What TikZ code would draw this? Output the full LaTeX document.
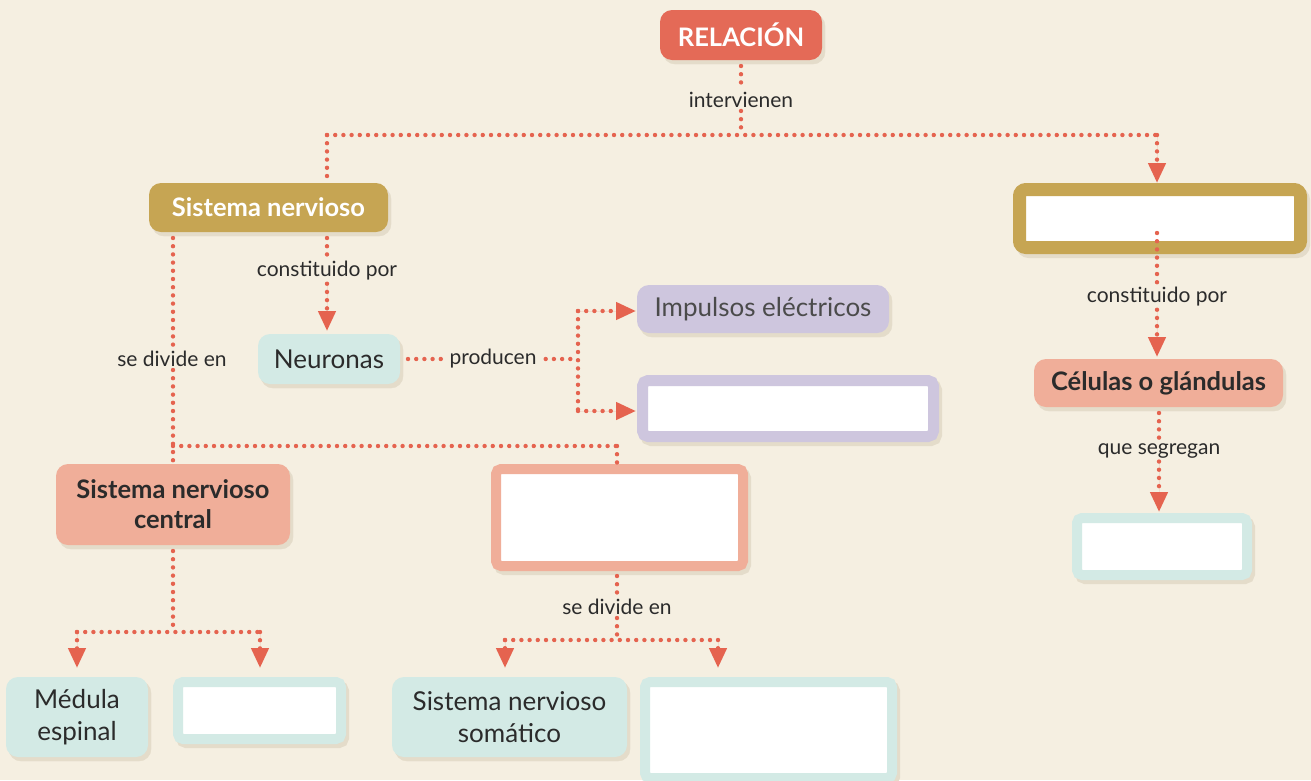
\documentclass[tikz,border=0pt]{standalone}
\usepackage{fontspec}
\setmainfont{Lato}
\usetikzlibrary{arrows.meta}
\definecolor{bg}{HTML}{F5EFE1}
\definecolor{relc}{HTML}{E46A57}
\definecolor{gold}{HTML}{C6A553}
\definecolor{salmon}{HTML}{F0AE99}
\definecolor{teal}{HTML}{D3EAE5}
\definecolor{lav}{HTML}{CEC6DE}
\definecolor{dotc}{HTML}{E5634F}
\definecolor{txt}{HTML}{2B2B2B}
\definecolor{shad}{HTML}{E4DCCA}
\begin{document}
\begin{tikzpicture}[x=1pt,y=-1pt,
  shadowed/.style={preaction={draw=shad,fill=shad,transform canvas={shift={(3pt,-4pt)}}}},
  fillbox/.style={shadowed,rounded corners=12pt,inner sep=0pt,outer sep=0pt,align=center,text=txt},
  emptybox/.style={shadowed,fill=white,line width=#1,rounded corners=#1/2,inner sep=0pt,outer sep=0pt},
  boldtxt/.style={font=\bfseries\fontsize{25.5}{30}\selectfont},
  regtxt/.style={font=\fontsize{26}{32}\selectfont},
  lab/.style={font=\fontsize{21}{22}\selectfont,text=txt,inner sep=3pt},
  dots/.style={draw=dotc,line width=4.4pt,line cap=round,dash pattern=on 0pt off 8.2pt},
  arr/.style={-{Triangle[length=20pt,width=17pt]},fill=dotc}]
\useasboundingbox (0,0) rectangle (1311,780);
\fill[bg] (0,0) rectangle (1311,780);

% nodes
\node[fillbox,fill=relc,text=white,boldtxt,minimum width=162pt,minimum height=50pt] (rel) at (741,35) {RELACIÓN};
\node[fillbox,fill=gold,text=white,boldtxt,minimum width=239pt,minimum height=49pt] (sn) at (268.5,207.5) {Sistema nervioso};
\node[emptybox=13pt,draw=gold,minimum width=281pt,minimum height=58pt] (gbox) at (1160,218.5) {};
\node[fillbox,fill=teal,regtxt,minimum width=142pt,minimum height=50pt] (neu) at (329,359) {Neuronas};
\node[fillbox,fill=lav,regtxt,text=txt!85,minimum width=252pt,minimum height=48pt] (imp) at (763,309) {Impulsos eléctricos};
\node[emptybox=11pt,draw=lav,minimum width=291pt,minimum height=56pt] (lbox) at (788,408.5) {};
\node[fillbox,fill=salmon,boldtxt,minimum width=234pt,minimum height=81pt] (snc) at (173,504.5) {Sistema nervioso\\central};
\node[emptybox=10pt,draw=salmon,minimum width=247pt,minimum height=97pt] (sbox) at (619.5,517.5) {};
\node[fillbox,fill=salmon,boldtxt,minimum width=249pt,minimum height=48pt] (cel) at (1158.5,383) {Células o glándulas};
\node[emptybox=10pt,draw=teal,minimum width=170pt,minimum height=57pt] (tbox) at (1162,546.5) {};
\node[fillbox,fill=teal,regtxt,minimum width=142pt,minimum height=80pt] (med) at (77,717) {Médula\\espinal};
\node[emptybox=10pt,draw=teal,minimum width=163pt,minimum height=57pt] (t2) at (259.5,710.5) {};
\node[fillbox,fill=teal,regtxt,minimum width=235pt,minimum height=80pt] (som) at (509.5,717) {Sistema nervioso\\somático};
\node[emptybox=10pt,draw=teal,minimum width=247pt,minimum height=96pt] (t3) at (768.5,730) {};

% labels
\node[lab] (lint) at (741,100) {intervienen};
\node[lab] (lc1) at (327,271) {constituido por};
\node[lab] (ldiv) at (172,359) {se divide en};
\node[lab] (lprod) at (493,359) {producen};
\node[lab] (lc2) at (1157,297) {constituido por};
\node[lab] (lseg) at (1159,451) {que segregan};
\node[lab] (ldiv2) at (617,607) {se divide en};

% junction coordinates
\coordinate (j1) at (741,135);
\coordinate (jl) at (327,135);
\coordinate (jr) at (1157,135);
\coordinate (xl) at (173,446);
\coordinate (xm) at (617,446);
\coordinate (xp) at (578,359);
\coordinate (xp1) at (578,311);
\coordinate (xp2) at (578,411);
\coordinate (r1) at (1157,233);
\coordinate (s1) at (173,632);
\coordinate (s1l) at (77,632);
\coordinate (s1r) at (260,632);
\coordinate (s2) at (617,640);
\coordinate (s2l) at (505,640);
\coordinate (s2r) at (718,640);

% connectors
\draw[dots,shorten <=6pt] (rel.south) -- (lint.north);
\draw[dots] (lint.south) -- (j1);
\draw[dots] (jl) -- (jr);
\draw[dots] (jl) -- (jl |- sn.north);
\draw[dots,arr,shorten >=6.5pt] (jr) -- (jr |- gbox.north);

\draw[dots,shorten <=6pt] (sn.south -| jl) -- (lc1.north);
\draw[dots,arr,shorten >=3pt] (lc1.south) -- (lc1.south |- neu.north);

\draw[dots,shorten <=6pt] (sn.south -| xl) -- (ldiv.north -| xl);
\draw[dots] (ldiv.south -| xl) -- (xl |- snc.north);
\draw[dots] (xl) -- (xm);
\draw[dots,shorten >=5pt] (xm) -- (sbox.north -| xm);

\draw[dots,shorten <=8pt] (neu.east) -- (lprod.west);
\draw[dots,shorten <=6pt] (lprod.east) -- (xp);
\draw[dots] (xp1) -- (xp2);
\draw[dots,arr,shorten >=1pt] (xp1) -- (imp.west |- xp1);
\draw[dots,arr,shorten >=6.5pt] (xp2) -- (lbox.west |- xp2);

\draw[dots] (r1) -- (lc2.north);
\draw[dots,arr,shorten >=2pt] (lc2.south) -- (lc2.south |- cel.north);
\draw[dots,shorten <=6pt] (cel.south -| lseg) -- (lseg.north);
\draw[dots,arr,shorten >=6pt] (lseg.south) -- (lseg.south |- tbox.north);

\draw[dots,shorten <=6pt] (snc.south) -- (s1);
\draw[dots] (s1l) -- (s1r);
\draw[dots,arr,shorten >=9pt] (s1l) -- (s1l |- med.north);
\draw[dots,arr,shorten >=14pt] (s1r) -- (s1r |- t2.north);

\draw[dots,shorten <=10pt] (sbox.south -| s2) -- (ldiv2.north);
\draw[dots] (ldiv2.south) -- (s2);
\draw[dots] (s2l) -- (s2r);
\draw[dots,arr,shorten >=9pt] (s2l) -- (s2l |- som.north);
\draw[dots,arr,shorten >=14pt] (s2r) -- (s2r |- t3.north);
\end{tikzpicture}
\end{document}
